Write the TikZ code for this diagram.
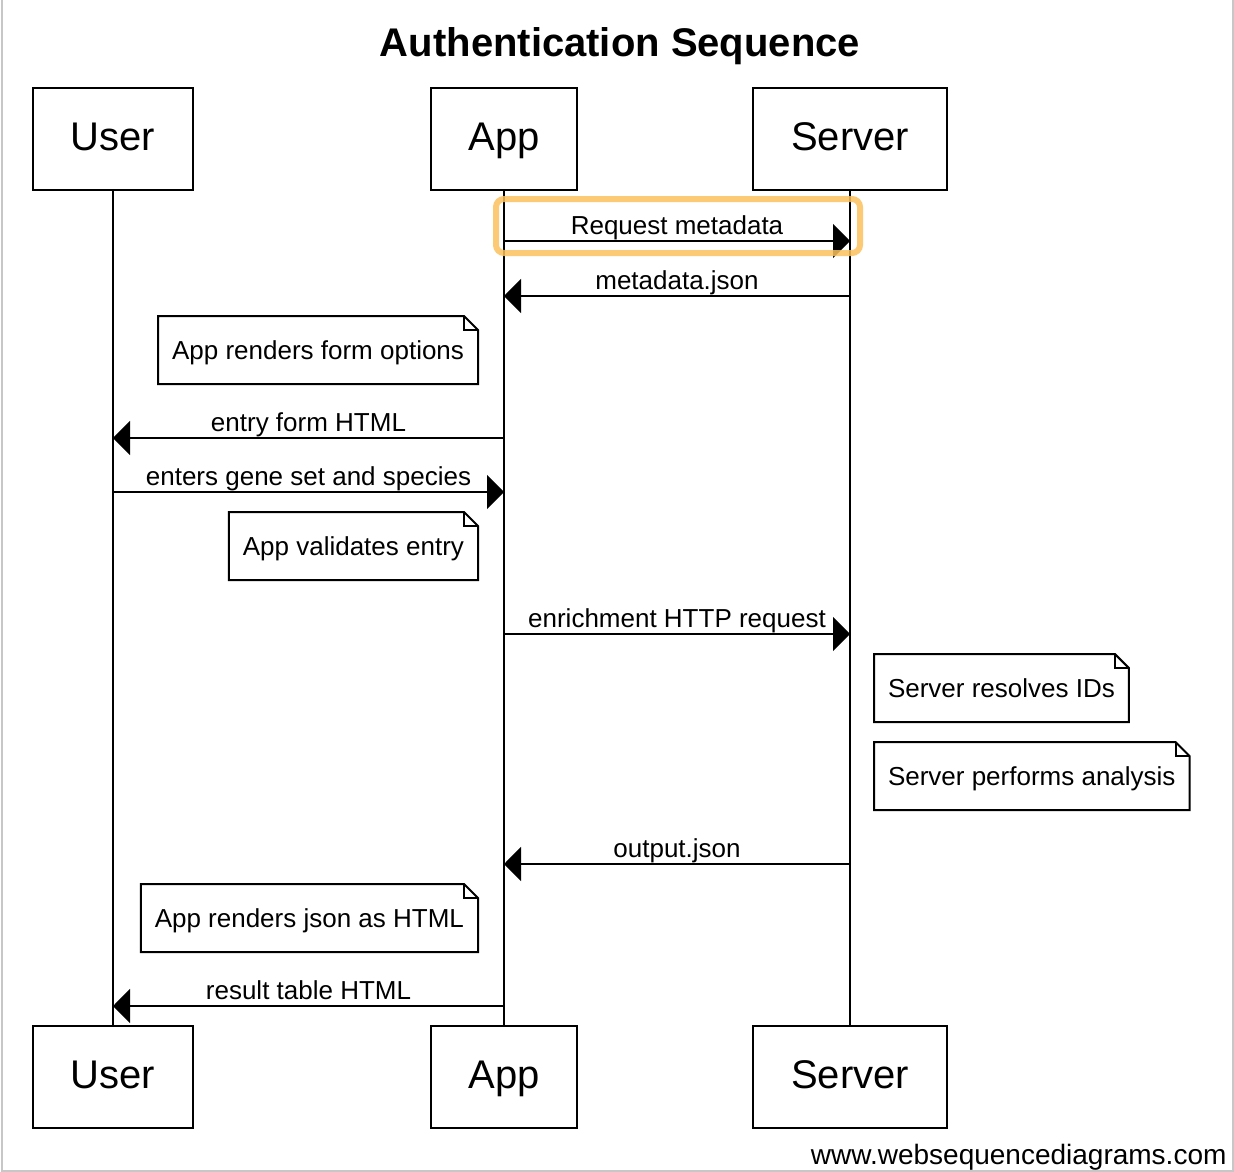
\documentclass[tikz,border=0pt]{standalone}
\usepackage{fontspec}
\setmainfont{Liberation Sans}
\usetikzlibrary{arrows.meta}
\definecolor{hilite}{RGB}{251,193,92}
\tikzset{actor/.style = {draw, line width = 2pt, minimum height = 102pt, text height = 30pt, text depth = 8pt, font = \fontsize{40}{48}\selectfont}}
\tikzset{life/.style = {line width = 2pt}}
\tikzset{msg/.style = {line width = 2pt, -{Triangle[length = 17pt, width = 34pt]}}}
\tikzset{msglabel/.style = {anchor = base, yshift = 7pt, inner sep = 0pt, font = \fontsize{26}{30}\selectfont}}
\tikzset{note/.style = {outer sep = 0pt, inner xsep = 14pt, minimum height = 68pt, text height = 18pt, text depth = 0pt, font = \fontsize{26}{30}\selectfont}}
\tikzset{fold/.style = {line width = 2pt, line join = miter}}
\tikzset{frame/.style = {draw = black!22, line width = 2pt}}

\begin{document}
\begin{tikzpicture}[x = 1pt, y = -1pt]
      \useasboundingbox (0, 0) rectangle (1234, 1172);
      \draw [frame] (1.5, 0) -- (1.5, 1170.5) -- (1232.5, 1170.5) -- (1232.5, 0);

      \node [anchor = base, font = \fontsize{40}{48}\bfseries\selectfont] (title) at (620, 57) {Authentication Sequence};

      \foreach \name/\lab/\x/\w in {user/User/113/160, app/App/504/146, server/Server/850/194} {
        \node [actor, minimum width = \w pt] (\name-top) at (\x, 139) {\lab};
        \node [actor, minimum width = \w pt] (\name-bot) at (\x, 1077) {\lab};
        \draw [life] (\name-top) -- (\name-bot);
      }

      \foreach \y/\from/\to/\lab in {241/app/server/Request metadata, 296/server/app/metadata.json, 438/app/user/entry form HTML, 492/user/app/enters gene set and species, 634/app/server/enrichment HTTP request, 864/server/app/output.json, 1006/app/user/result table HTML} {
        \path (\from-top) ++(0, \y - 139) coordinate (m-from)
              (\to-top) ++(0, \y - 139) coordinate (m-to);
        \draw [msg] (m-from) -- node [msglabel] {\lab} (m-to);
      }

      \foreach \name/\side/\x/\y/\lab in {form/north east/478/316/App renders form options, check/north east/478/512/App validates entry, ids/north west/874/654/Server resolves IDs, stats/north west/874/742/Server performs analysis, json/north east/478/884/App renders json as HTML} {
        \node [note, anchor = \side] (\name) at (\x, \y) {\lab};
        \draw [fold] (\name.south west) -- (\name.north west) -- ([xshift = -14pt] \name.north east) -- ([yshift = -14pt] \name.north east) -- (\name.south east) -- cycle;
        \draw [fold] ([xshift = -14pt] \name.north east) |- ([yshift = -14pt] \name.north east);
      }

      \draw [hilite, opacity = 0.85, line width = 6pt, rounded corners = 8pt] (496, 199) rectangle (860, 253);

      \node [anchor = base east, font = \fontsize{28}{32}\selectfont] (footer) at (1230, 1164) {www.websequencediagrams.com};
    \end{tikzpicture}
\end{document}
